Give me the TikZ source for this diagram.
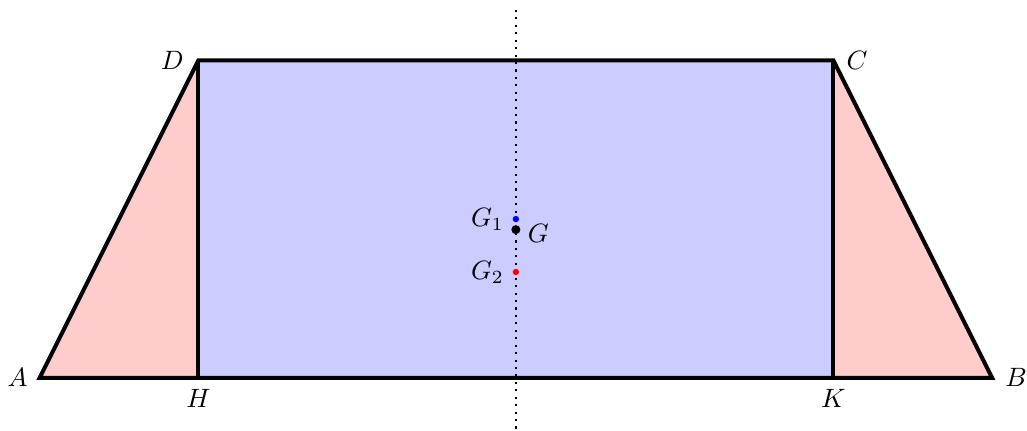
\documentclass[tikz,border=0pt]{standalone}
\usepackage{tikz}
\begin{document}
\begin{tikzpicture}[x=2.1cm,y=2.1cm,line join=miter]
  \useasboundingbox (-0.25,-0.33) rectangle (6.22,2.38);
  \coordinate (A) at (0,0);
  \coordinate (B) at (6,0);
  \coordinate (C) at (5,2);
  \coordinate (D) at (1,2);
  \coordinate (H) at (1,0);
  \coordinate (K) at (5,0);
  \coordinate (G1) at (3,1);
  \coordinate (G2) at (3,2/3);
  \coordinate (G) at (3,14/15);
  \coordinate (Top) at (3,2.33);
  \coordinate (Bot) at (3,-0.32);
  \fill[red!20] (A) -- (H) -- (D) -- cycle;
  \fill[red!20] (K) -- (B) -- (C) -- cycle;
  \fill[blue!20] (H) -- (K) -- (C) -- (D) -- cycle;
  \draw[line width=1.5pt] (A) -- (B) -- (C) -- (D) -- cycle;
  \draw[line width=1.5pt] (D) -- (H);
  \draw[line width=1.5pt] (C) -- (K);
  \draw[thick,dotted] (Bot) -- (Top);
  \fill[blue] (G1) circle (1.2pt);
  \fill[red] (G2) circle (1.2pt);
  \fill[black] (G) circle (1.7pt);
  \node[left=1pt] at (A) {$A$};
  \node[right=1.5pt] at (B) {$B$};
  \node[right=1.5pt] at (C) {$C$};
  \node[left=2pt] at (D) {$D$};
  \node[below=1pt] at (H) {$H$};
  \node[below=1pt] at (K) {$K$};
  \node[left=1pt] at (G1) {$G_1$};
  \node[left=1pt] at (G2) {$G_2$};
  \node[right=1pt,yshift=-1.5pt] at (G) {$G$};
\end{tikzpicture}
\end{document}
